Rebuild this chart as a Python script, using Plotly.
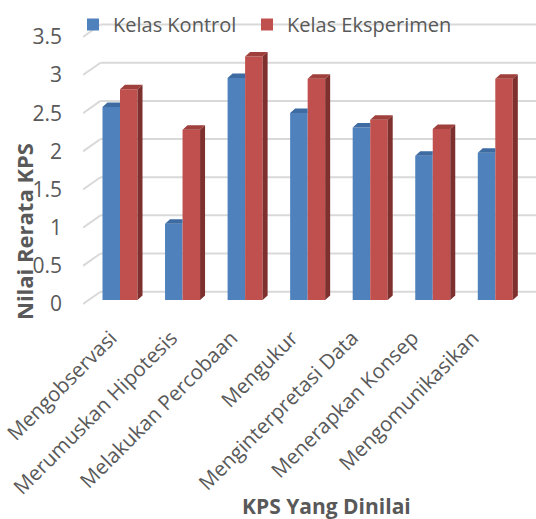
import plotly.graph_objects as go

# ---------------- data ----------------
categories = ["Mengobservasi", "Merumuskan Hipotesis", "Melakukan Percobaan", "Mengukur",
              "Menginterpretasi Data", "Menerapkan Konsep", "Mengomunikasikan"]
kontrol = [2.53, 1.00, 2.91, 2.45, 2.26, 1.89, 1.93]
eksperimen = [2.76, 2.23, 3.19, 2.90, 2.36, 2.24, 2.90]
series_names = ["Kelas Kontrol", "Kelas Eksperimen"]
y_ticks = [0, 0.5, 1, 1.5, 2, 2.5, 3, 3.5]
y_tick_labels = ["0", "0.5", "1", "1.5", "2", "2.5", "3", "3.5"]
x_title = "KPS Yang Dinilai"
y_title = "Nilai Rerata KPS"

# ---------------- layout / style ----------------
W, H = 536, 519
ML, MR, MT, MB = 83, 0, 0, 199
PX_PER_X = 62.55
PX_PER_Y = 76.33
X0_PX = 120 - ML          # first group centre from plot left
ZERO_PX = 304 - MT        # front-plane zero from plot top
plot_w = W - ML - MR
plot_h = H - MT - MB
x_range = [-X0_PX / PX_PER_X, (plot_w - X0_PX) / PX_PER_X]
y_range = [-(plot_h - ZERO_PX) / PX_PER_Y, ZERO_PX / PX_PER_Y]

# category labels sit on the (slightly foreshortened) front floor edge
LBL_PX_PER_X = 60.3
LBL_X0_PX = 111 - ML
label_range = [-LBL_X0_PX / LBL_PX_PER_X, (plot_w - LBL_X0_PX) / LBL_PX_PER_X]

BDX = 17.5 / PX_PER_X     # back wall depth
BDY = 12.3 / PX_PER_Y
BASE = 4 / PX_PER_Y       # bars stand at mid depth
BAR_W = 0.28
DDX = 5 / PX_PER_X        # bar depth
DDY = 4.5 / PX_PER_Y

FONT = "Open Sans"
TXT = "#595959"
GRID = "#D9D9D9"
BLUE, BLUE_TOP = "#4F81BD", "#3D6BA2"
RED, RED_TOP, RED_SIDE = "#C0504D", "#A0403D", "#7E302E"


def px_x(p):
    return (p - ML) / plot_w


def px_y(p):
    return (MT + plot_h - p) / plot_h


fig = go.Figure()

# front faces
fig.add_trace(go.Bar(x=[i - BAR_W / 2 for i in range(len(categories))], y=kontrol, base=BASE,
                     width=BAR_W, name=series_names[0], marker=dict(color=BLUE, line=dict(width=0)),
                     hoverinfo="skip", legend="legend"))
fig.add_trace(go.Bar(x=[i + BAR_W / 2 for i in range(len(categories))], y=eksperimen, base=BASE,
                     width=BAR_W, name=series_names[1], marker=dict(color=RED, line=dict(width=0)),
                     hoverinfo="skip", legend="legend2"))


def poly_trace(xs, ys, color):
    return go.Scatter(x=xs, y=ys, mode="lines", fill="toself", fillcolor=color,
                      line=dict(width=0, color=color), showlegend=False, hoverinfo="skip")


# 3D faces computed from the data
bx, by = [], []
for i, v in enumerate(kontrol):
    xl, xr_ = i - BAR_W, i
    t = BASE + v
    bx += [xl, xl + DDX, xr_, xr_, xl, None]
    by += [t, t + DDY, t + DDY, t, t, None]
fig.add_trace(poly_trace(bx, by, BLUE_TOP))

tx, ty, sx, sy = [], [], [], []
for i, v in enumerate(eksperimen):
    xl, xr_ = i, i + BAR_W
    t = BASE + v
    tx += [xl, xl + DDX, xr_ + DDX, xr_, xl, None]
    ty += [t, t + DDY, t + DDY, t, t, None]
    sx += [xr_, xr_ + DDX, xr_ + DDX, xr_, xr_, None]
    sy += [BASE, BASE + DDY, t + DDY, t, BASE, None]
fig.add_trace(poly_trace(tx, ty, RED_TOP))
fig.add_trace(poly_trace(sx, sy, RED_SIDE))

# invisible trace binding the category-label axis
fig.add_trace(go.Scatter(x=list(range(len(categories))), y=[0] * len(categories), xaxis="x2",
                         mode="markers", marker=dict(opacity=0), showlegend=False, hoverinfo="skip"))

# back-wall gridlines
shapes = []
for v in y_ticks:
    shapes.append(dict(type="line", xref="x", yref="y", x0=x_range[0], y0=v,
                       x1=x_range[0] + BDX, y1=v + BDY, line=dict(color=GRID, width=2), layer="below"))
    shapes.append(dict(type="line", xref="x", yref="y", x0=x_range[0] + BDX, y0=v + BDY,
                       x1=x_range[1], y1=v + BDY, line=dict(color=GRID, width=2), layer="below"))

annotations = [
    dict(text=f"<b>{y_title}</b>", xref="paper", yref="paper",
         x=px_x(24), y=px_y(232), textangle=-90, showarrow=False,
         font=dict(family=FONT, size=22, color=TXT), xanchor="center", yanchor="middle"),
    dict(text=f"<b>{x_title}</b>", xref="paper", yref="paper",
         x=px_x(326), y=px_y(506), showarrow=False,
         font=dict(family=FONT, size=21, color=TXT), xanchor="center", yanchor="middle"),
]

legend_common = dict(orientation="h", xanchor="left", yanchor="top",
                     bgcolor="rgba(0,0,0,0)", font=dict(family=FONT, size=20, color=TXT))

fig.update_layout(
    template="none",
    width=W, height=H, margin=dict(l=ML, r=MR, t=MT, b=MB, pad=0, autoexpand=False),
    paper_bgcolor="white", plot_bgcolor="white",
    barmode="overlay", shapes=shapes, annotations=annotations,
    font=dict(family=FONT, color=TXT),
    showlegend=True,
    legend=dict(x=px_x(73), y=px_y(5), **legend_common),
    legend2=dict(x=px_x(247), y=px_y(5), **legend_common),
    xaxis=dict(range=x_range, showticklabels=False, showgrid=False, zeroline=False,
               showline=False, ticks="", automargin=False, fixedrange=True),
    xaxis2=dict(range=label_range, overlaying="x", anchor="y", side="bottom",
                tickvals=list(range(len(categories))), ticktext=categories,
                tickangle=-45, showgrid=False, zeroline=False, showline=False, ticks="",
                automargin=False, ticklabelstandoff=1, ticklabeloverflow="allow",
                tickfont=dict(family=FONT, size=20.5, color=TXT), fixedrange=True),
    yaxis=dict(range=y_range, tickvals=y_ticks, ticktext=y_tick_labels, showgrid=False,
               zeroline=False, showline=False, ticks="", ticklabelstandoff=20, automargin=False,
               ticklabeloverflow="allow",
               tickfont=dict(family=FONT, size=21, color=TXT), fixedrange=True),
)

fig.write_html("out.html", config={"displayModeBar": False},
               post_script="document.body.style.margin='0';")
